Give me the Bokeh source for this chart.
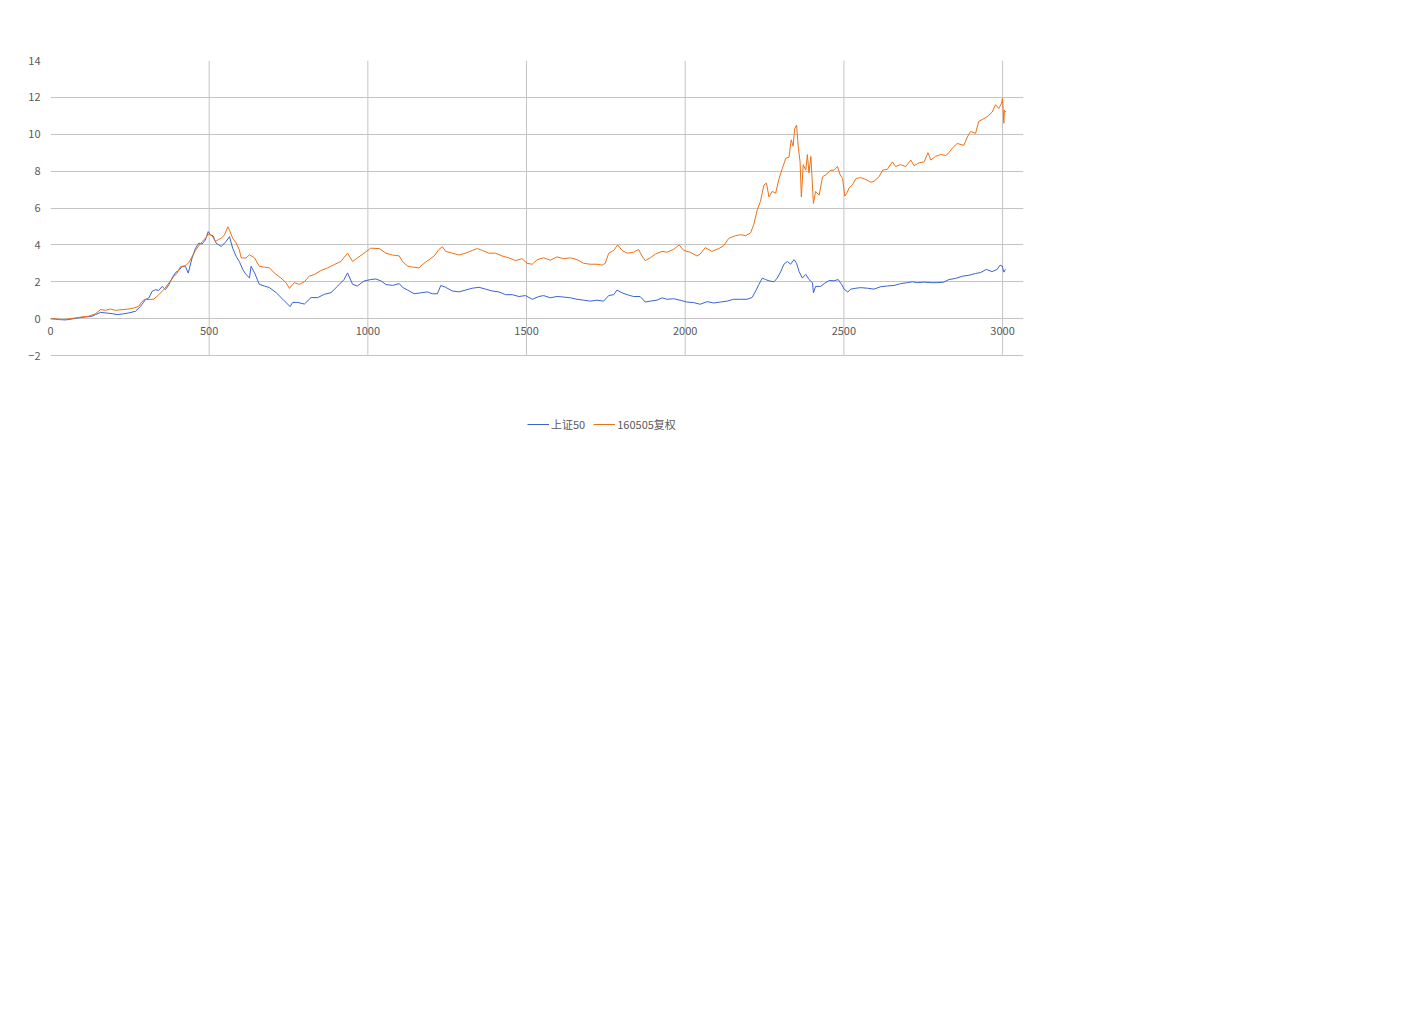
from bokeh.plotting import figure
from bokeh.models import Range1d, FixedTicker, Legend, LegendItem
from bokeh.embed import file_html
from bokeh.resources import INLINE

# ---- data ----
series_names = ["上证50", "160505复权"]
x_ticks = [0, 500, 1000, 1500, 2000, 2500, 3000]
y_ticks = [-2, 0, 2, 4, 6, 8, 10, 12, 14]

sz50_day = [0, 16, 26, 47, 68, 89, 110, 131, 142, 158, 173, 194, 210, 226, 247, 268, 284, 299, 310, 320,
            331, 341, 352, 362, 373, 383, 394, 404, 415, 425, 434, 446, 457, 467, 478, 488, 497, 504, 512, 522,
            538, 553, 564, 574, 585, 595, 606, 616, 627, 632, 643, 658, 674, 690, 711, 732, 747, 755, 763, 779,
            800, 821, 842, 863, 884, 905, 925, 936, 952, 967, 988, 1009, 1025, 1041, 1057, 1078, 1099, 1109, 1125, 1146,
            1167, 1188, 1203, 1219, 1230, 1245, 1266, 1287, 1308, 1329, 1350, 1371, 1392, 1413, 1434, 1455, 1476, 1497, 1518, 1539,
            1554, 1575, 1596, 1617, 1638, 1659, 1680, 1701, 1722, 1743, 1759, 1775, 1785, 1801, 1817, 1837, 1858, 1874, 1890, 1911,
            1927, 1942, 1963, 1984, 2005, 2026, 2047, 2069, 2090, 2111, 2132, 2153, 2174, 2195, 2211, 2222, 2232, 2243, 2253, 2264,
            2280, 2290, 2301, 2311, 2322, 2332, 2343, 2351, 2359, 2369, 2380, 2390, 2401, 2404, 2411, 2427, 2438, 2454, 2469, 2482,
            2493, 2501, 2512, 2522, 2538, 2553, 2574, 2595, 2616, 2637, 2658, 2679, 2700, 2716, 2732, 2753, 2774, 2794, 2815, 2831,
            2852, 2873, 2894, 2915, 2931, 2949, 2967, 2983, 2992, 2999, 3004, 3009]
sz50_val = [0.0, -0.03, -0.05, -0.07, -0.02, 0.05, 0.09, 0.13, 0.22, 0.34, 0.31, 0.27, 0.22, 0.25, 0.31, 0.4, 0.67, 1.03, 1.12, 1.48,
            1.57, 1.53, 1.75, 1.57, 1.84, 2.2, 2.5, 2.61, 2.83, 2.83, 2.47, 3.28, 3.82, 4.09, 4.05, 4.27, 4.72, 4.54, 4.5, 4.09,
            3.91, 4.18, 4.45, 3.82, 3.38, 3.1, 2.66, 2.39, 2.21, 2.84, 2.48, 1.86, 1.77, 1.68, 1.41, 1.05, 0.79, 0.65, 0.88, 0.88,
            0.79, 1.14, 1.14, 1.32, 1.41, 1.77, 2.12, 2.48, 1.86, 1.77, 2.04, 2.12, 2.15, 2.05, 1.85, 1.8, 1.9, 1.7, 1.55, 1.35,
            1.4, 1.45, 1.35, 1.35, 1.8, 1.7, 1.5, 1.45, 1.55, 1.65, 1.7, 1.6, 1.5, 1.45, 1.3, 1.3, 1.2, 1.25, 1.05, 1.2,
            1.25, 1.13, 1.2, 1.17, 1.13, 1.05, 1.0, 0.95, 1.0, 0.95, 1.25, 1.3, 1.55, 1.4, 1.3, 1.2, 1.2, 0.9, 0.95, 1.0,
            1.13, 1.05, 1.08, 1.0, 0.9, 0.87, 0.78, 0.92, 0.85, 0.9, 0.95, 1.05, 1.05, 1.05, 1.15, 1.5, 1.85, 2.2, 2.12, 2.05,
            2.0, 2.2, 2.55, 2.95, 3.1, 2.95, 3.2, 3.0, 2.55, 2.2, 2.4, 2.12, 1.95, 1.4, 1.75, 1.75, 1.9, 2.07, 2.05, 2.12,
            1.85, 1.6, 1.45, 1.6, 1.65, 1.68, 1.65, 1.6, 1.73, 1.77, 1.8, 1.9, 1.95, 2.0, 1.95, 1.98, 1.95, 1.95, 1.98, 2.12,
            2.18, 2.3, 2.35, 2.45, 2.5, 2.67, 2.55, 2.67, 2.9, 2.85, 2.52, 2.67]

f160505_day = [0, 16, 37, 58, 79, 100, 121, 142, 158, 173, 189, 205, 226, 247, 263, 278, 289, 299, 310, 326,
               341, 357, 373, 389, 399, 410, 425, 436, 446, 457, 467, 478, 488, 499, 509, 520, 530, 538, 548, 559,
               564, 574, 585, 595, 601, 616, 627, 643, 658, 674, 690, 705, 726, 742, 753, 768, 784, 800, 815, 831,
               852, 873, 894, 915, 936, 952, 967, 988, 1009, 1036, 1057, 1078, 1099, 1109, 1125, 1140, 1161, 1177, 1193, 1209,
               1224, 1235, 1245, 1266, 1287, 1308, 1329, 1345, 1361, 1381, 1402, 1423, 1444, 1465, 1486, 1502, 1518, 1534, 1554, 1575,
               1596, 1617, 1638, 1659, 1680, 1701, 1722, 1738, 1748, 1759, 1775, 1787, 1801, 1817, 1837, 1853, 1864, 1874, 1890, 1906,
               1927, 1942, 1963, 1981, 1995, 2016, 2037, 2047, 2063, 2084, 2106, 2121, 2137, 2158, 2174, 2190, 2206, 2216, 2227, 2237,
               2248, 2256, 2264, 2274, 2285, 2295, 2306, 2317, 2327, 2334, 2340, 2345, 2351, 2356, 2362, 2366, 2372, 2380, 2385, 2390,
               2396, 2404, 2411, 2422, 2433, 2443, 2459, 2469, 2480, 2488, 2496, 2503, 2509, 2517, 2527, 2538, 2553, 2569, 2585, 2595,
               2611, 2622, 2637, 2653, 2663, 2679, 2695, 2711, 2721, 2737, 2753, 2765, 2774, 2789, 2805, 2821, 2831, 2842, 2857, 2878,
               2889, 2899, 2915, 2925, 2936, 2952, 2967, 2978, 2988, 2996, 3000, 3004, 3006, 3010]
f160505_val = [0.0, -0.02, -0.05, -0.02, 0.04, 0.09, 0.13, 0.27, 0.49, 0.45, 0.52, 0.45, 0.49, 0.52, 0.58, 0.67, 0.94, 1.06, 1.03, 1.06,
               1.3, 1.57, 1.93, 2.29, 2.47, 2.83, 2.86, 3.05, 3.37, 3.7, 3.95, 4.18, 4.36, 4.6, 4.49, 4.18, 4.3, 4.36, 4.54, 4.98,
               4.8, 4.36, 4.1, 3.73, 3.29, 3.29, 3.46, 3.29, 2.84, 2.79, 2.75, 2.48, 2.21, 1.95, 1.64, 1.95, 1.86, 2.0, 2.3, 2.39,
               2.61, 2.75, 2.93, 3.1, 3.55, 3.1, 3.29, 3.55, 3.82, 3.8, 3.55, 3.45, 3.4, 3.1, 2.85, 2.8, 2.75, 3.0, 3.2, 3.4,
               3.75, 3.9, 3.65, 3.55, 3.45, 3.55, 3.7, 3.8, 3.7, 3.55, 3.55, 3.4, 3.3, 3.15, 3.25, 3.0, 2.95, 3.2, 3.3, 3.17,
               3.35, 3.25, 3.3, 3.2, 3.0, 2.95, 2.95, 2.9, 3.0, 3.55, 3.7, 4.0, 3.7, 3.55, 3.6, 3.75, 3.4, 3.15, 3.3, 3.5,
               3.65, 3.6, 3.75, 4.0, 3.7, 3.6, 3.4, 3.5, 3.85, 3.65, 3.8, 3.95, 4.35, 4.5, 4.55, 4.5, 4.65, 5.1, 5.9, 6.35,
               7.25, 7.35, 6.6, 6.9, 6.8, 7.55, 8.15, 8.7, 8.75, 9.7, 9.35, 10.3, 10.5, 9.35, 8.5, 6.6, 8.35, 8.05, 8.9, 7.9,
               8.8, 6.25, 6.9, 6.7, 7.7, 7.8, 8.05, 8.05, 8.25, 7.8, 7.6, 6.65, 6.8, 7.1, 7.25, 7.6, 7.65, 7.55, 7.4, 7.45,
               7.7, 8.05, 8.1, 8.5, 8.25, 8.35, 8.25, 8.6, 8.3, 8.45, 8.5, 9.0, 8.6, 8.8, 8.9, 8.85, 9.0, 9.25, 9.5, 9.4,
               9.85, 10.15, 10.05, 10.7, 10.8, 10.95, 11.2, 11.6, 11.4, 11.65, 11.95, 10.6, 11.3, 11.2]

# ---- styling ----
BLUE = "#3b63d0"
ORANGE = "#ef7014"
GRID = "#c4c4c4"
TEXT = "#595959"
FONT = "Noto Sans CJK SC"

PX_PER_UNIT = 295 / 16.0          # vertical scale of the value grid
EXTRA_BELOW = 90                  # room under the value grid for the legend
y_lo = y_ticks[0] - EXTRA_BELOW / PX_PER_UNIT

p = figure(frame_width=973, frame_height=295 + EXTRA_BELOW, output_backend="svg", toolbar_location=None,
           x_range=Range1d(0, 3066), y_range=Range1d(y_lo, y_ticks[-1]),
           min_border_left=50, min_border_top=60, min_border_right=5, min_border_bottom=10,
           title=None)
p.outline_line_color = None
p.background_fill_color = "white"
p.border_fill_color = "white"

# vertical grid lines, only over the value grid
p.segment(x0=x_ticks[1:], y0=[y_ticks[0]] * 6, x1=x_ticks[1:], y1=[y_ticks[-1]] * 6,
          line_color=GRID, line_width=1)

r1 = p.line(sz50_day, sz50_val, line_color=BLUE, line_width=1)
r2 = p.line(f160505_day, f160505_val, line_color=ORANGE, line_width=1)

# axes
p.xaxis.ticker = FixedTicker(ticks=x_ticks)
p.yaxis.ticker = FixedTicker(ticks=y_ticks)
for ax in (p.xaxis[0], p.yaxis[0]):
    ax.major_tick_line_color = None
    ax.minor_tick_line_color = None
    ax.major_tick_out = 0
    ax.major_tick_in = 0
    ax.minor_tick_out = 0
    ax.minor_tick_in = 0
    ax.axis_line_color = None
    ax.major_label_text_font = FONT
    ax.major_label_text_font_size = "11px"
    ax.major_label_text_color = TEXT
p.yaxis.major_label_standoff = 10
p.xaxis.major_label_standoff = -119

p.xgrid.grid_line_color = None
p.ygrid.ticker = FixedTicker(ticks=y_ticks)
p.ygrid.grid_line_color = GRID

legend = Legend(items=[LegendItem(label=series_names[0], renderers=[r1]),
                       LegendItem(label=series_names[1], renderers=[r2])],
                orientation="horizontal", location=(477, 13),
                glyph_width=22, glyph_height=14, label_standoff=2, spacing=8,
                padding=0, margin=0, border_line_color=None, background_fill_alpha=0,
                label_text_font=FONT, label_text_font_size="11px", label_text_color=TEXT)
p.add_layout(legend, "center")

open("out.html", "w").write(file_html(p, INLINE))
